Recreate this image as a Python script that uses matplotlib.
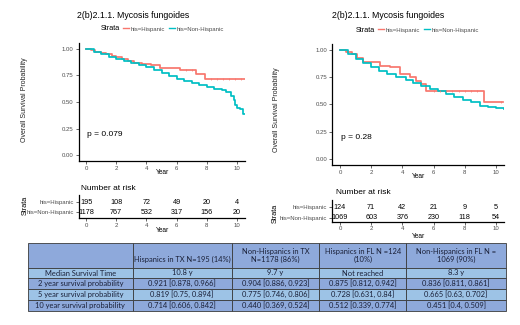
import numpy as np
import matplotlib
matplotlib.use("Agg")
import matplotlib.pyplot as plt
from matplotlib.lines import Line2D

plt.rcParams['font.family'] = ['Liberation Sans', 'DejaVu Sans']

W, H = 520, 325
RED = '#F8766D'
TEAL = '#00BFC4'
GREY = '#4D4D4D'

# ---- Kaplan-Meier curves (step, post) ----
tx_hisp_t = [0, 0.3, 0.6, 1.0, 1.3, 1.7, 2.0, 2.4, 2.8, 3.2, 3.7, 4.3, 4.9, 6.2, 7.3, 7.9, 10.5]
tx_hisp_s = [1.0, 0.99, 0.975, 0.965, 0.95, 0.935, 0.921, 0.905, 0.885, 0.865, 0.855, 0.845, 0.819, 0.80, 0.765, 0.714, 0.714]
tx_non_t = [0, 0.5, 1.0, 1.5, 2.0, 2.5, 3.0, 3.5, 4.0, 4.5, 5.0, 5.5, 6.0, 6.5, 7.0, 7.5, 8.0,
            8.5, 9.0, 9.3, 9.6, 9.8, 9.9, 10.0, 10.2, 10.4, 10.5]
tx_non_s = [1.0, 0.975, 0.95, 0.925, 0.904, 0.885, 0.865, 0.845, 0.825, 0.80, 0.775, 0.745, 0.72,
            0.70, 0.68, 0.66, 0.64, 0.625, 0.61, 0.59, 0.56, 0.52, 0.47, 0.44, 0.43, 0.39, 0.39]

fl_hisp_t = [0, 0.4, 0.75, 1.1, 1.5, 2.56, 3.2, 3.85, 4.5, 4.9, 5.2, 5.5, 9.23, 10.45]
fl_hisp_s = [1.0, 0.98, 0.96, 0.93, 0.89, 0.85, 0.84, 0.78, 0.75, 0.72, 0.69, 0.627, 0.52, 0.52]
fl_non_t = [0, 0.5, 1.0, 1.5, 2.0, 2.5, 3.0, 3.6, 4.2, 4.7, 5.2, 5.8, 6.3, 6.8, 7.3, 7.9,
            8.4, 9.0, 9.5, 10.0, 10.5]
fl_non_s = [1.0, 0.96, 0.92, 0.88, 0.845, 0.81, 0.78, 0.748, 0.725, 0.70, 0.672, 0.64, 0.62,
            0.597, 0.572, 0.545, 0.52, 0.49, 0.48, 0.47, 0.455]

# censor ticks on the flat red stretches
tx_hisp_cens = [6.6, 7.0, 8.3, 8.7, 9.1, 9.5, 9.9, 10.3]
fl_hisp_cens = [6.0, 6.4, 6.8, 7.2, 7.6, 8.0, 8.4, 8.8, 10.3]

# ---- number at risk ----
risk_years = [0, 2, 4, 6, 8, 10]
tx_hisp_risk = [195, 108, 72, 49, 20, 4]
tx_non_risk = [1178, 767, 532, 317, 156, 20]
fl_hisp_risk = [124, 71, 42, 21, 9, 5]
fl_non_risk = [1069, 603, 376, 230, 118, 54]
strata = ['his=Hispanic', 'his=Non-Hispanic']

# ---- summary table ----
headers = ['', '\nHispanics in TX N=195 (14%)', 'Non-Hispanics in TX\nN=1178 (86%)',
           'Hispanics in FL N =124\n(10%)', 'Non-Hispanics in FL N =\n1069 (90%)']
row_labels = ['Median Survival Time', '2 year survival probability',
              '5 year survival probability', '10 year survival probability']
tx_hisp_tab = ['10.8 y', '0.921 [0.878, 0.966]', '0.819 [0.75, 0.894]', '0.714 [0.606, 0.842]']
tx_non_tab = ['9.7 y', '0.904 [0.886, 0.923]', '0.775 [0.746, 0.806]', '0.440 [0.369, 0.524]']
fl_hisp_tab = ['Not reached', '0.875 [0.812, 0.942]', '0.728 [0.631, 0.84]', '0.512 [0.339, 0.774]']
fl_non_tab = ['8.3 y', '0.836 [0.811, 0.861]', '0.665 [0.63, 0.702]', '0.451 [0.4, 0.509]']

fig = plt.figure(figsize=(W / 100, H / 100), dpi=100)


def px_axes(l, t, r, b):
    return fig.add_axes([l / W, 1 - b / H, (r - l) / W, (b - t) / H])


def ftext(x, y, s, **kw):
    return fig.text(x / W, 1 - y / H, s, **kw)


def gg_style(ax):
    for sp in ['top', 'right']:
        ax.spines[sp].set_visible(False)
    for sp in ['left', 'bottom']:
        ax.spines[sp].set_linewidth(0.9)
        ax.spines[sp].set_color('black')
    ax.tick_params(length=2, width=0.6, color=GREY, labelsize=4.3, labelcolor=GREY, pad=1.5)


def step_at(t, s, x):
    idx = np.searchsorted(t, x, side='right') - 1
    return np.asarray(s)[idx]


def km_panel(ax, curves, cens, pval):
    for t, s, col in curves:
        ax.step(t, s, where='post', color=col, lw=1.25)
    ct, (t, s, col) = cens, curves[0]
    ax.plot(ct, step_at(t, s, ct), ls='none', marker='|', ms=2, mew=0.5, color=col)
    ax.set_xlim(-0.5, 10.5)
    ax.set_ylim(-0.055, 1.055)
    ax.set_xticks(risk_years)
    ax.set_yticks([0, 0.25, 0.5, 0.75, 1.0])
    ax.set_yticklabels(['0.00', '0.25', '0.50', '0.75', '1.00'])
    gg_style(ax)
    ax.text(0.05, 0.18, pval, transform=ax.transData, fontsize=6)


def risk_panel(ax, hisp, non, ylim):
    for i, n in enumerate(hisp):
        ax.text(risk_years[i], 2, str(n), ha='center', va='center', fontsize=5.2)
    for i, n in enumerate(non):
        ax.text(risk_years[i], 1, str(n), ha='center', va='center', fontsize=5.2)
    ax.set_xlim(-0.5, 10.5)
    ax.set_ylim(*ylim)
    ax.set_xticks(risk_years)
    ax.set_yticks([2, 1])
    ax.set_yticklabels(strata)
    for lab, col in zip(ax.get_yticklabels(), [RED, TEAL]):
        lab.set_color(col)
    gg_style(ax)


# left panel (TX)
ax1 = px_axes(78.5, 43, 244.5, 161)
km_panel(ax1, [(tx_hisp_t, tx_hisp_s, RED), (tx_non_t, tx_non_s, TEAL)], tx_hisp_cens, 'p = 0.079')
ax1r = px_axes(78.5, 195, 244.5, 218)
risk_panel(ax1r, tx_hisp_risk, tx_non_risk, (0.4, 2.7))

# right panel (FL)
ax2 = px_axes(332.2, 44, 503.8, 165)
km_panel(ax2, [(fl_hisp_t, fl_hisp_s, RED), (fl_non_t, fl_non_s, TEAL)], fl_hisp_cens, 'p = 0.28')
ax2r = px_axes(332.2, 200, 503.8, 221.5)
risk_panel(ax2r, fl_hisp_risk, fl_non_risk, (0.635, 2.7))

# titles, legends, axis titles
for cx, ly, lx0, yl_x, yl_y, st_x, st_y, nar_y, yr1, yr2 in [
        (133, 29, 123, 25, 100, 25, 205, 188, 173, 231),
        (388, 30, 378, 277, 110, 275, 213, 193, 177, 236)]:
    ftext(cx, 15, '2(b)2.1.1. Mycosis fungoides', ha='center', va='center', fontsize=6.3)
    ftext(lx0 - 3, ly, 'Strata', ha='right', va='center', fontsize=5.2)
    fig.legend(handles=[Line2D([], [], color=RED, lw=1), Line2D([], [], color=TEAL, lw=1)],
               labels=strata, ncol=2, frameon=False, fontsize=4.3, labelcolor=GREY,
               loc='center left', bbox_to_anchor=(lx0 / W, 1 - ly / H),
               handlelength=1.0, handletextpad=0.3, columnspacing=0.6, borderpad=0,
               borderaxespad=0)
    ftext(yl_x, yl_y, 'Overall Survival Probability', rotation=90, ha='center', va='center',
          fontsize=5, color='#222222')
    ftext(st_x, st_y, 'Strata', rotation=90, ha='center', va='center', fontsize=5.2)
    ftext(cx - 52, nar_y, 'Number at risk', ha='left', va='center', fontsize=6)
    ftext(cx + 30, yr1, 'Year', ha='center', va='center', fontsize=4.8)
    ftext(cx + 30, yr2, 'Year', ha='center', va='center', fontsize=4.8)

# summary table
axt = px_axes(28, 243, 506, 311)
axt.axis('off')
cells = [headers] + [[row_labels[i], tx_hisp_tab[i], tx_non_tab[i], fl_hisp_tab[i], fl_non_tab[i]]
                     for i in range(len(row_labels))]
row_cols = ['#8EA9DB', '#9DC3E6', '#8EA9DB', '#9DC3E6', '#8EA9DB']
col_w = [105, 99, 88, 87, 100]
row_h = [25, 10, 11, 11, 11]
tbl = axt.table(cellText=cells, cellLoc='center', bbox=[0, 0, 1, 1])
tbl.auto_set_font_size(False)
for (r, c), cell in tbl.get_celld().items():
    cell.set_width(col_w[c])
    cell.set_height(row_h[r])
    cell.set_facecolor(row_cols[r])
    cell.set_edgecolor('#3A3A3A')
    cell.set_linewidth(0.6)
    cell.get_text().set_fontsize(5.4)
    cell.get_text().set_family(['Lato', 'DejaVu Sans'])
    cell.get_text().set_color('#1A2038')
    cell.get_text().set_linespacing(1.25)

fig.savefig('out.png', dpi=100)
